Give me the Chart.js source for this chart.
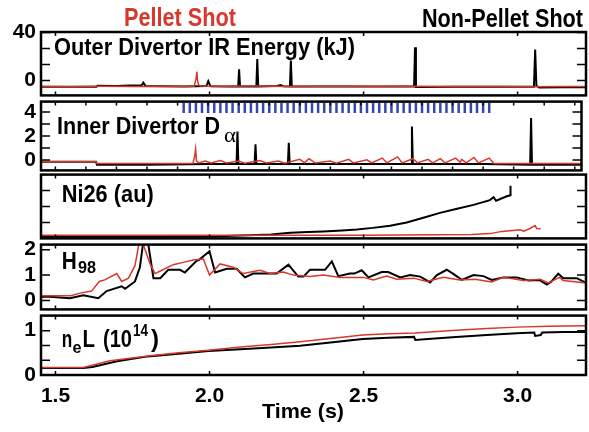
<!DOCTYPE html>
<html>
<head>
<meta charset="utf-8">
<script src="https://cdn.jsdelivr.net/npm/chart.js@4.4.1/dist/chart.umd.min.js"></script>
<style>
  html, body { margin: 0; padding: 0; background: #fff; }
  #wrap { position: relative; width: 589px; height: 432px; overflow: hidden; background: #fff; }
  #wrap canvas { position: absolute; left: 0; }
</style>
</head>
<body>
<div id="wrap"></div>
<script>
// time axis (s)
const T_MIN = 1.453, T_MAX = 3.222;
const timeTicks = [1.5, 2.0, 2.5, 3.0];
const timeTicksFine = [1.5, 1.6, 1.7, 1.8, 1.9, 2.0, 2.1, 2.2, 2.3, 2.4, 2.5, 2.6, 2.7, 2.8, 2.9, 3.0, 3.1, 3.2];

// pellet injection times (s)
const pelletTimes = [1.92, 1.94, 1.96, 1.98, 2.00, 2.02, 2.04, 2.06, 2.08, 2.10,
  2.12, 2.14, 2.16, 2.18, 2.20, 2.22, 2.24, 2.26, 2.28, 2.30,
  2.32, 2.34, 2.36, 2.38, 2.40, 2.42, 2.44, 2.46, 2.48, 2.50,
  2.52, 2.54, 2.56, 2.58, 2.60, 2.62, 2.64, 2.66, 2.68, 2.70,
  2.72, 2.74, 2.76, 2.78, 2.80, 2.82, 2.84, 2.86, 2.88, 2.90, 2.92];

// Outer divertor IR energy (kJ), [t, value]
const irNonPellet = [[1.453, -5.2], [1.55, -5.3], [1.633, -5.3], [1.636, -4.3], [1.70, -4.6], [1.74, -4.2],
  [1.78, -3.9], [1.785, -1.8], [1.792, -4.5], [1.85, -4.8], [1.92, -5.0], [1.99, -4.6], [1.996, -0.5],
  [2.003, -4.8], [2.06, -5.0], [2.093, -5.0], [2.096, 9.3], [2.099, -5.0], [2.152, -5.0], [2.155, 17.9],
  [2.158, -5.0], [2.22, -4.6], [2.23, -3.8], [2.24, -4.7], [2.261, -5.0], [2.264, 16.6], [2.267, -4.8],
  [2.40, -5.0], [2.50, -4.9], [2.60, -5.0], [2.664, -5.0], [2.667, 27.6], [2.670, -5.4], [2.80, -5.1],
  [2.95, -5.2], [3.053, -5.2], [3.057, 25.8], [3.061, -4.4], [3.07, -5.9], [3.15, -5.6], [3.222, -5.6]];
const irPellet = [[1.453, -5.0], [1.55, -5.1], [1.65, -4.8], [1.75, -4.9], [1.85, -5.0], [1.95, -4.7],
  [1.956, 1.0], [1.959, 7.3], [1.961, 0.5], [1.964, -3.5], [1.97, -4.5], [2.05, -4.8], [2.15, -4.6],
  [2.25, -4.9], [2.35, -4.8], [2.45, -4.7], [2.55, -4.9], [2.65, -4.8], [2.75, -5.0], [2.85, -4.9],
  [2.95, -5.0], [3.05, -5.1], [3.15, -5.0], [3.222, -5.0]];

// Inner divertor D-alpha
const daNonPellet = [[1.453, -0.15], [1.633, -0.15], [1.636, -0.4], [1.80, -0.4], [2.0, -0.35], [2.093, -0.35],
  [2.096, 2.38], [2.099, -0.35], [2.152, -0.35], [2.155, 1.30], [2.158, -0.35], [2.261, -0.35], [2.264, 1.44],
  [2.267, -0.35], [2.50, -0.35], [2.664, -0.35], [2.667, 2.8], [2.670, -0.35], [2.90, -0.35], [3.054, -0.4],
  [3.057, 3.5], [3.060, -0.4], [3.222, -0.4]];
const daPellet = [[1.453, -0.15], [1.633, -0.15], [1.636, -0.3], [1.80, -0.3], [1.95, -0.3], [1.956, 0.3],
  [1.959, 0.9], [1.962, -0.1], [1.97, -0.25], [1.99, -0.1], [2.01, -0.25], [2.04, -0.05], [2.06, -0.25],
  [2.10, -0.1], [2.12, -0.28], [2.17, -0.05], [2.19, -0.25], [2.23, -0.1], [2.25, -0.28], [2.30, 0.05],
  [2.315, -0.25], [2.33, 0.1], [2.35, -0.25], [2.40, -0.1], [2.42, -0.28], [2.46, 0.05], [2.475, -0.25],
  [2.52, 0.0], [2.535, -0.25], [2.57, 0.15], [2.585, -0.25], [2.62, 0.25], [2.635, -0.25], [2.67, 0.1],
  [2.685, -0.25], [2.72, 0.05], [2.735, -0.25], [2.76, 0.1], [2.775, -0.25], [2.81, 0.15], [2.825, -0.2],
  [2.83, 0.05], [2.845, -0.25], [2.87, 0.2], [2.885, -0.25], [2.92, 0.15], [2.935, -0.3], [3.0, -0.3],
  [3.222, -0.3]];

// Ni26 (au)
const niNonPellet = [[1.453, 0.1], [1.8, 0.1], [2.0, 0.12], [2.13, 0.2], [2.2, 0.25], [2.262, 0.36], [2.32, 0.4],
  [2.37, 0.44], [2.43, 0.5], [2.478, 0.56], [2.53, 0.66], [2.586, 0.80], [2.64, 1.0], [2.694, 1.30],
  [2.748, 1.60], [2.80, 1.84], [2.857, 2.10], [2.91, 2.40], [2.922, 2.58], [2.93, 2.36], [2.965, 2.64],
  [2.976, 2.70], [2.977, 3.3]];
const niPellet = [[1.453, 0.2], [2.5, 0.2], [2.85, 0.25], [2.91, 0.3], [2.95, 0.44], [3.008, 0.54], [3.02, 0.45],
  [3.04, 0.62], [3.057, 0.80], [3.062, 0.62], [3.075, 0.6]];

// H98
const hNonPellet = [[1.453, 0.14], [1.47, 0.16], [1.547, 0.09], [1.59, 0.21], [1.639, 0.09], [1.666, 0.37],
  [1.715, 0.56], [1.726, 0.46], [1.758, 0.75], [1.774, 1.31], [1.785, 2.31], [1.80, 2.31], [1.818, 0.88],
  [1.84, 0.88], [1.866, 1.21], [1.904, 1.21], [1.92, 1.10], [1.958, 1.56], [1.965, 1.59], [2.0, 1.94],
  [2.018, 1.10], [2.056, 1.25], [2.088, 1.25], [2.115, 0.91], [2.142, 1.06], [2.196, 1.06], [2.218, 1.06],
  [2.256, 1.41], [2.288, 0.94], [2.305, 0.94], [2.326, 1.21], [2.375, 1.21], [2.397, 1.54], [2.418, 0.96],
  [2.456, 1.06], [2.47, 1.06], [2.494, 1.19], [2.516, 0.91], [2.559, 1.12], [2.58, 1.12], [2.619, 0.91],
  [2.651, 1.0], [2.684, 0.94], [2.716, 0.71], [2.738, 1.0], [2.77, 1.21], [2.79, 1.06], [2.819, 0.81],
  [2.857, 1.0], [2.889, 0.96], [2.916, 0.81], [2.954, 0.91], [2.997, 0.91], [3.035, 0.79], [3.07, 0.81],
  [3.095, 0.63], [3.11, 0.75], [3.132, 1.06], [3.148, 0.88], [3.192, 0.88], [3.222, 0.69]];
const hPellet = [[1.453, 0.19], [1.55, 0.19], [1.58, 0.29], [1.617, 0.37], [1.642, 0.75], [1.66, 0.81],
  [1.699, 1.06], [1.715, 0.75], [1.737, 0.88], [1.758, 1.37], [1.772, 2.31], [1.782, 2.31], [1.807, 1.44],
  [1.823, 1.06], [1.845, 1.19], [1.882, 1.41], [1.915, 1.50], [1.947, 1.59], [1.98, 1.63], [2.0, 1.0],
  [2.034, 1.44], [2.077, 1.31], [2.109, 1.06], [2.164, 1.19], [2.196, 1.06], [2.24, 1.12], [2.272, 1.0],
  [2.326, 0.94], [2.369, 1.0], [2.424, 0.91], [2.50, 0.91], [2.532, 0.81], [2.575, 0.96], [2.608, 0.84],
  [2.662, 0.88], [2.705, 0.75], [2.759, 0.91], [2.813, 0.81], [2.862, 0.84], [2.916, 0.73], [2.954, 0.91],
  [3.019, 0.79], [3.073, 0.84], [3.10, 0.69], [3.136, 0.91], [3.148, 0.79], [3.222, 0.69]];

// neL (1e14)
const neNonPellet = [[1.453, 0.16], [1.59, 0.16], [1.62, 0.18], [1.70, 0.31], [1.80, 0.42], [1.90, 0.48],
  [1.996, 0.54], [2.10, 0.58], [2.20, 0.62], [2.294, 0.66], [2.40, 0.74], [2.497, 0.81], [2.58, 0.84],
  [2.664, 0.86], [2.668, 0.79], [2.72, 0.82], [2.80, 0.86], [2.90, 0.90], [2.997, 0.94], [3.054, 0.96],
  [3.057, 0.88], [3.075, 0.90], [3.08, 0.96], [3.15, 0.97], [3.222, 0.97]];
const nePellet = [[1.453, 0.17], [1.59, 0.17], [1.677, 0.32], [1.80, 0.43], [1.90, 0.50], [1.996, 0.56],
  [2.10, 0.63], [2.20, 0.69], [2.294, 0.75], [2.40, 0.83], [2.497, 0.90], [2.58, 0.93], [2.667, 0.95],
  [2.80, 1.01], [2.90, 1.05], [2.997, 1.08], [3.10, 1.10], [3.222, 1.11]];

// y tick values and labels per panel
const irTicks = [0, 13.333, 26.667, 40];
const irTickText = ['0', '', '', '40'];
const daTicks = [0, 1, 2, 3, 4];
const daTickText = ['0', '', '2', '', '4'];
const niTicks = [1, 2, 3];
const niTickText = ['', '', ''];
const hTicks = [0, 1, 2];
const hTickText = ['0', '1', '2'];
const neTicks = [0, 0.3333, 0.6667, 1];
const neTickText = ['0', '', '', '1'];

const RED = '#d8372c';
const BLACK = '#000000';
const BLUE = '#3547ad';
const FONT = 'Liberation Sans, Arial, sans-serif';

const pts = arr => arr.map(p => ({ x: p[0], y: p[1] }));
const redLine = arr => ({ data: pts(arr), borderColor: RED, borderWidth: 1.5, pointRadius: 0 });
const blackLine = arr => ({ data: pts(arr), borderColor: BLACK, borderWidth: 2, pointRadius: 0 });

// squeezed bold text like the condensed font of the figure
function drawText(ctx, t, offsetY) {
  ctx.save();
  ctx.font = (t.weight || 'bold') + ' ' + t.size + 'px ' + (t.family || FONT);
  const natural = ctx.measureText(t.text).width;
  const sx = t.width ? t.width / natural : 1;
  ctx.translate(t.x, t.y - offsetY);
  ctx.scale(sx, 1);
  ctx.fillStyle = t.color || BLACK;
  ctx.textAlign = 'left';
  ctx.textBaseline = 'alphabetic';
  ctx.fillText(t.text, 0, 0);
  ctx.restore();
}

const framePlugin = {
  id: 'frame',
  afterDraw(chart, args, opts) {
    const { ctx, chartArea: a, scales } = chart;
    ctx.save();
    ctx.strokeStyle = BLACK;
    ctx.lineWidth = 1.5;
    ctx.beginPath();
    scales.y.ticks.forEach(t => {
      const y = scales.y.getPixelForValue(t.value);
      ctx.moveTo(a.left, y); ctx.lineTo(a.left + 9, y);
      ctx.moveTo(a.right, y); ctx.lineTo(a.right - 9, y);
    });
    (opts.xMarks || []).forEach(v => {
      const x = scales.x.getPixelForValue(v);
      ctx.moveTo(x, a.bottom); ctx.lineTo(x, a.bottom - 4);
      ctx.moveTo(x, a.top); ctx.lineTo(x, a.top + 4);
    });
    ctx.stroke();
    ctx.lineWidth = 2.5;
    ctx.strokeRect(a.left, a.top, a.right - a.left, a.bottom - a.top);
    (opts.texts || []).forEach(t => drawText(ctx, t, opts.canvasTop));
    ctx.restore();
  }
};

function makePanel(p) {
  const padTop = p.padTop ?? 16;
  const padBottom = p.showX ? 0 : 16;
  const xHeight = p.showX ? 57 : 0;
  const canvasTop = p.top - padTop;
  const canvas = document.createElement('canvas');
  canvas.width = 589;
  canvas.height = p.bottom - p.top + padTop + padBottom + xHeight;
  canvas.style.top = canvasTop + 'px';
  document.getElementById('wrap').appendChild(canvas);
  const tickFont = { family: FONT, size: 21, weight: 'bold' };

  new Chart(canvas, {
    type: 'line',
    data: { datasets: p.datasets },
    options: {
      responsive: false,
      animation: false,
      layout: { padding: { top: padTop, bottom: padBottom, left: 0, right: 3 } },
      elements: { line: { tension: 0 } },
      plugins: {
        legend: { display: false },
        tooltip: { enabled: false },
        frame: { xMarks: p.xMarks, texts: p.texts, canvasTop: canvasTop }
      },
      scales: {
        x: {
          type: 'linear', min: T_MIN, max: T_MAX,
          display: !!p.showX,
          grid: { display: false, drawTicks: false },
          border: { display: false },
          afterBuildTicks: s => { s.ticks = timeTicks.map(v => ({ value: v })); },
          afterFit: s => { s.height = xHeight; },
          ticks: { font: tickFont, color: BLACK, padding: 9, maxRotation: 0, autoSkip: false,
                   callback: v => Number(v).toFixed(1) }
        },
        y: {
          min: p.yMin, max: p.yMax,
          grid: { display: false, drawTicks: false },
          border: { display: false },
          afterBuildTicks: s => { s.ticks = p.yTicks.map(v => ({ value: v })); },
          afterFit: s => { s.width = 41; },
          ticks: { font: tickFont, color: BLACK, padding: 5, autoSkip: false,
                   callback: (v, i) => p.yTickText[i] }
        }
      }
    },
    plugins: [framePlugin]
  });
}

// 1: outer divertor IR energy
makePanel({
  top: 32, bottom: 97, padTop: 32, yMin: -12.4, yMax: 40.4,
  yTicks: irTicks, yTickText: irTickText, xMarks: timeTicks,
  datasets: [redLine(irPellet), blackLine(irNonPellet)],
  texts: [
    { text: 'Pellet Shot', x: 124, y: 26, size: 25, width: 112, color: RED },
    { text: 'Non-Pellet Shot', x: 422, y: 26.5, size: 25, width: 161 },
    { text: 'Outer Divertor IR Energy (kJ)', x: 54, y: 55, size: 23, width: 301 }
  ]
});

// 2: inner divertor D-alpha with pellet markers
makePanel({
  top: 100, bottom: 172, yMin: -0.88, yMax: 4.88,
  yTicks: daTicks, yTickText: daTickText, xMarks: timeTicksFine,
  datasets: [
    { data: pelletTimes.map(t => ({ x: t, y: 4.34 })), showLine: false, pointStyle: 'line',
      pointRadius: 5, pointRotation: 90, pointBorderWidth: 2.5, pointBorderColor: BLUE, borderColor: BLUE },
    redLine(daPellet), blackLine(daNonPellet)
  ],
  texts: [
    { text: 'Inner Divertor D', x: 57, y: 134, size: 24, width: 163 },
    { text: 'α', x: 224, y: 141.5, size: 22, width: 12, weight: 'normal', family: 'Liberation Serif, serif' }
  ]
});

// 3: Ni26
makePanel({
  top: 173, bottom: 240, yMin: 0, yMax: 4.0,
  yTicks: niTicks, yTickText: niTickText, xMarks: timeTicks,
  datasets: [redLine(niPellet), blackLine(niNonPellet)],
  texts: [{ text: 'Ni26 (au)', x: 61.7, y: 201.7, size: 24, width: 92 }]
});

// 4: H98
makePanel({
  top: 243, bottom: 311, yMin: -0.35, yMax: 2.2,
  yTicks: hTicks, yTickText: hTickText, xMarks: timeTicks,
  datasets: [redLine(hPellet), blackLine(hNonPellet)],
  texts: [
    { text: 'H', x: 61.7, y: 268.5, size: 24, width: 15 },
    { text: '98', x: 78, y: 273, size: 16, width: 18 }
  ]
});

// 5: line-integrated density
makePanel({
  top: 314, bottom: 375, yMin: 0, yMax: 1.34, showX: true,
  yTicks: neTicks, yTickText: neTickText, xMarks: timeTicks,
  datasets: [redLine(nePellet), blackLine(neNonPellet)],
  texts: [
    { text: 'n', x: 61.7, y: 347, size: 24, width: 10.5 },
    { text: 'e', x: 72.5, y: 353, size: 17, width: 9 },
    { text: 'L', x: 82.5, y: 347, size: 24, width: 12.5 },
    { text: '(10', x: 103, y: 347, size: 24, width: 29 },
    { text: '14', x: 133, y: 336, size: 16, width: 15 },
    { text: ')', x: 151, y: 347, size: 24, width: 8 },
    { text: 'Time (s)', x: 262, y: 418.3, size: 21, width: 82 }
  ]
});
</script>
</body>
</html>
